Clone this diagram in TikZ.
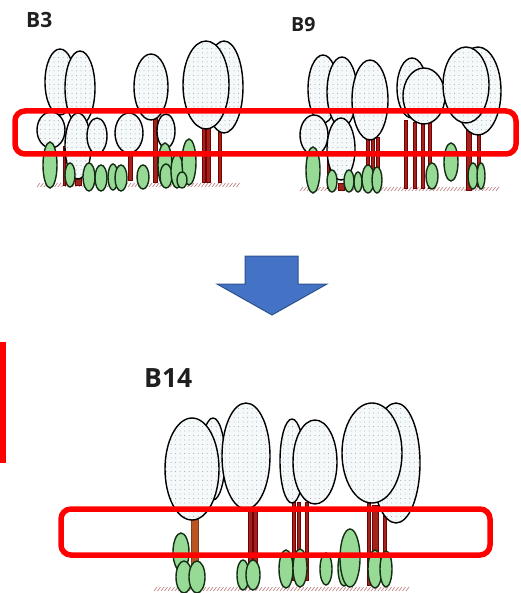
\documentclass[tikz,border=0pt]{standalone}
\usepackage{fontspec}
\setmainfont{Open Sans}
\usetikzlibrary{patterns.meta}

\definecolor{crownbg}{RGB}{246,249,250}
\definecolor{dotc}{RGB}{150,166,178}
\definecolor{shrubc}{RGB}{150,218,150}
\definecolor{shrubline}{RGB}{20,45,20}
\definecolor{trunkc}{RGB}{120,0,0}
\definecolor{trunkin}{RGB}{160,35,30}
\definecolor{trunkorange}{RGB}{185,85,35}
\definecolor{groundc}{RGB}{195,135,135}
\definecolor{boxred}{RGB}{255,0,0}
\definecolor{arrowfill}{RGB}{68,114,196}
\definecolor{arrowline}{RGB}{47,82,143}

\tikzset{
  crown/.style={draw=black, line width=1.4pt, preaction={fill=crownbg},
    pattern={Dots[distance=4.5pt, radius=0.5pt]}, pattern color=dotc},
  shrub/.style={draw=shrubline, line width=1.4pt, fill=shrubc},
  trunk/.style={draw=trunkc, line width=0.8pt, fill=trunkin},
  orangetrunk/.style={draw=trunkorange!70!black, line width=0.8pt, fill=trunkorange},
  groundhatch/.style={draw=groundc, line width=0.7pt},
  focusbox/.style={draw=boxred, line width=5.5pt, rounded corners=10pt},
  scenelabel/.style={inner sep=0pt, anchor=base west, text=black!88},
  downarrow/.style={fill=arrowfill, draw=arrowline, line width=1pt, line join=miter},
}

% helpers: crown (x,y,rx,ry), shrub (x,y,rx,ry), trunk rectangle (x1,y1,x2,y2)
\newcommand\crownat[4]{\path[crown] (#1,#2) ellipse [x radius=#3, y radius=#4];}
\newcommand\shrubat[4]{\path[shrub] (#1,#2) ellipse [x radius=#3, y radius=#4];}
\newcommand\trunkbar[4]{\path[trunk] (#1,#2) rectangle (#3,#4);}
% hatched soil line: start x, number of strokes, y
\newcommand\groundline[3]{%
  \foreach \gi in {0,...,#2} {\draw[groundhatch] ({#1+\gi*3.5},#3) -- ++(3,-4);}}

\begin{document}
\begin{tikzpicture}[x=1pt, y=-1pt]
\useasboundingbox (0,0) rectangle (520,593);

% ---------------- stand B3 ----------------
\groundline{37}{57}{187}
\trunkbar{153}{118}{157}{182}
\trunkbar{128}{150}{132}{180}
\trunkbar{202}{128}{205}{182}
\trunkbar{206}{128}{210}{182}
\trunkbar{218}{130}{221}{182}
\trunkbar{63}{146}{65}{185}
\trunkbar{75}{176}{81}{185}
\crownat{60}{82}{15}{33}
\crownat{80}{88}{15}{37}
\crownat{151}{87}{17}{33}
\crownat{224}{87}{19}{46}
\crownat{206}{85}{23}{44}
\crownat{51}{130}{14}{18}
\crownat{78}{146}{13}{33}
\crownat{97}{136}{10}{18}
\crownat{129}{133}{14}{20}
\crownat{166}{131}{9}{17}
\shrubat{50}{165}{7}{23}
\shrubat{70}{175}{5}{12}
\shrubat{89}{177}{6}{14}
\shrubat{101}{178}{6}{13}
\shrubat{113}{177}{5}{13}
\shrubat{121}{178}{6}{13}
\shrubat{143}{177}{6}{12}
\shrubat{165}{165}{7}{22}
\shrubat{166}{176}{6}{12}
\shrubat{177}{171}{6}{17}
\shrubat{189}{162}{7}{23}
\shrubat{182}{180}{5}{8}
\node[scenelabel, font=\fontsize{21}{21}\selectfont\bfseries] (lbB3) at (26,28) {B3};

% ---------------- stand B9 ----------------
\groundline{300}{56}{191}
\trunkbar{366}{137}{369}{186}
\trunkbar{371}{137}{374}{186}
\trunkbar{376}{137}{379}{186}
\trunkbar{327}{150}{329}{188}
\trunkbar{338}{183}{344}{190}
\trunkbar{404}{120}{407}{188}
\trunkbar{413}{122}{416}{188}
\trunkbar{421}{122}{424}{188}
\trunkbar{428}{120}{431}{188}
\trunkbar{466}{125}{471}{190}
\trunkbar{477}{130}{480}{186}
\crownat{323}{89}{15}{34}
\crownat{342}{92}{15}{35}
\crownat{370}{100}{18}{40}
\crownat{412}{88}{15}{30}
\crownat{424}{96}{21}{28}
\crownat{478}{91}{23}{44}
\crownat{466}{85}{23}{38}
\crownat{314}{135}{14}{20}
\crownat{341}{149}{14}{31}
\shrubat{313}{170}{7}{23}
\shrubat{332}{181}{5}{11}
\shrubat{349}{181}{5}{11}
\shrubat{358}{182}{4}{10}
\shrubat{368}{179}{6}{14}
\shrubat{377}{180}{5}{13}
\shrubat{432}{176}{6}{13}
\shrubat{451}{162}{7}{19}
\shrubat{473}{176}{5}{13}
\shrubat{481}{176}{4}{13}
\node[scenelabel, font=\fontsize{19.5}{19.5}\selectfont\bfseries] (lbB9) at (291,32) {B9};

% ---------------- arrow ----------------
\path[downarrow] (245,256) -- (298,256) -- (298,284) -- (327,284) -- (272,315)
  -- (217,284) -- (245,284) -- cycle;

% left marker bar
\fill[boxred] (0,342) rectangle (6,463);

% ---------------- stand B14 ----------------
\groundline{154}{72}{591}
\path[orangetrunk] (191,518) rectangle (198,585);
\trunkbar{248}{508}{252}{583}
\trunkbar{253}{508}{257}{583}
\trunkbar{292}{502}{295}{580}
\trunkbar{297}{502}{300}{580}
\trunkbar{305}{502}{308}{580}
\trunkbar{367}{503}{370}{585}
\trunkbar{372}{505}{378}{585}
\trunkbar{383}{515}{386}{585}
\crownat{213}{459}{12}{41}
\crownat{192}{469}{27}{51}
\crownat{246}{456}{24}{53}
\crownat{292}{461}{12}{42}
\crownat{315}{462}{22}{42}
\crownat{396}{463}{24}{60}
\crownat{372}{453}{30}{50}
\shrubat{181}{552}{8}{19}
\shrubat{184}{577}{8}{16}
\shrubat{197}{577}{8}{16}
\shrubat{243}{575}{6}{15}
\shrubat{253}{575}{7}{15}
\shrubat{286}{569}{7}{19}
\shrubat{300}{568}{7}{19}
\shrubat{326}{569}{6}{16}
\shrubat{344}{568}{6}{18}
\shrubat{350}{558}{10}{29}
\shrubat{375}{569}{7}{19}
\shrubat{386}{569}{6}{18}
\node[scenelabel, font=\fontsize{26.5}{26.5}\selectfont\bfseries] (lbB14) at (144,387) {B14};

% ---------------- highlight frames ----------------
\draw[focusbox] (15,111) rectangle (516,154);
\draw[focusbox] (61,509) rectangle (490,555);

\end{tikzpicture}
\end{document}
